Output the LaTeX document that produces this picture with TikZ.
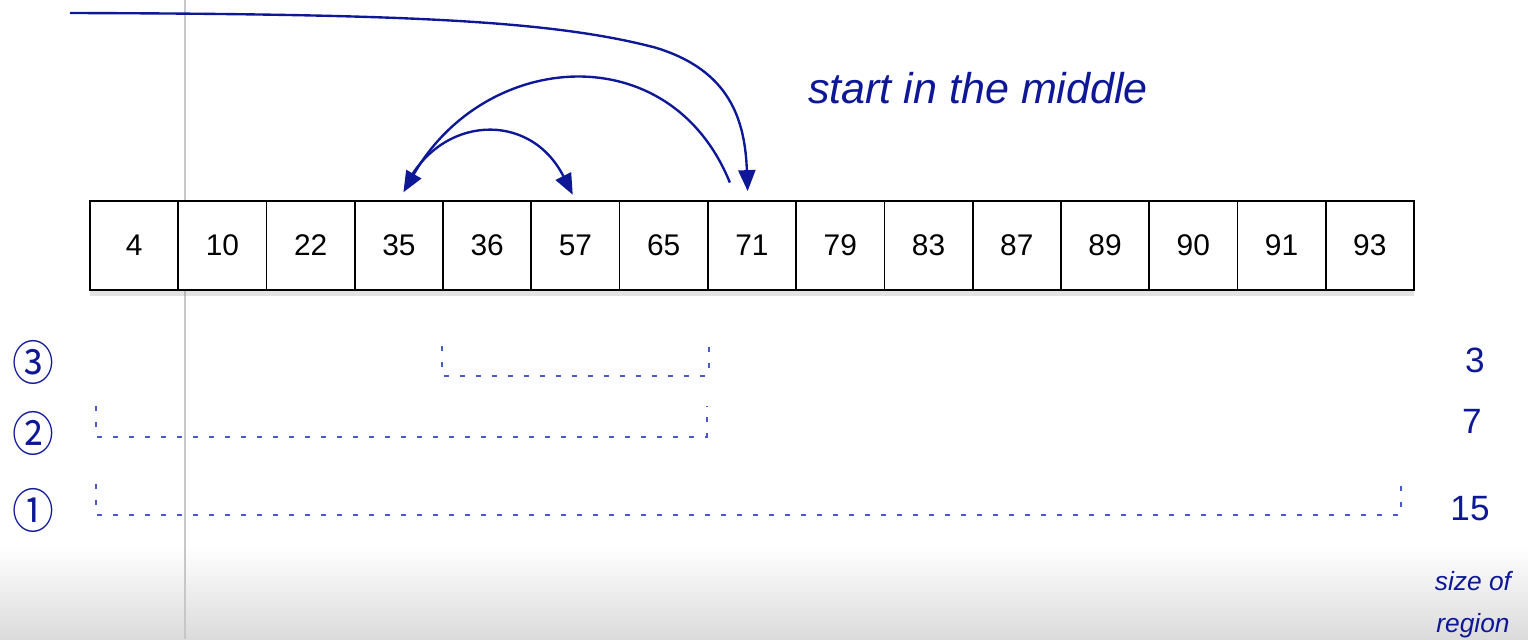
\documentclass[tikz,border=0pt]{standalone}
\usepackage{fontspec}
\setmainfont{Liberation Sans}
\newfontfamily\circfont{Noto Sans CJK JP}
\usetikzlibrary{positioning, arrows.meta, calc, shadows}
\definecolor{jumpblue}{RGB}{14,24,150}
\definecolor{dotblue}{RGB}{70,90,205}

\begin{document}
\begin{tikzpicture}[>={Triangle[length=0.42cm,width=0.34cm]},
    cell/.style={draw, line width=1pt, fill=white, inner sep=0pt,
                 minimum width=1.7653cm, minimum height=1.78cm,
                 font=\fontsize{17}{20}\selectfont,
                 drop shadow={shadow xshift=0pt, shadow yshift=-0.12cm, opacity=0.22}},
    jump/.style={->, jumpblue, line width=1.35pt},
    region/.style={dotblue, line width=1pt, dash pattern=on 0.1cm off 0.22cm},
    circnum/.style={text=jumpblue, xscale=0.88, transform shape,
                    font=\circfont\fontsize{27}{30}\selectfont},
    sizenum/.style={text=jumpblue, font=\fontsize{20}{24}\selectfont},
    note/.style={text=jumpblue, font=\itshape\fontsize{24.5}{28}\selectfont}]

    \useasboundingbox (0,0) rectangle (30.56,-12.78);
    \shade[top color=white, bottom color=black!14] (0,-10.9) rectangle (30.56,-12.78);
    \draw[black!22, line width=1.2pt] (3.7,0) -- (3.7,-12.78);

    % the sorted array
    \foreach \v [count=\i] in {4,10,22,35,36,57,65,71,79,83,87,89,90,91,93}
      \node[cell] (c\i) at ({1.8+(\i-0.5)*1.7653}, -4.91) {\v};

    \node[note] (middle) at (19.56,-1.76) {start in the middle};

    % probes
    \coordinate (from) at (1.4,-0.26);
    \draw[jump, shorten >=0.18cm]
      (from) .. controls (8.0,-0.28) and (11.0,-0.4) .. (13.1,-0.95)
             .. controls (14.6,-1.4) and (14.9,-2.4) .. ([xshift=-0.08cm]c8.north);
    \draw[jump, shorten <=0.38cm, shorten >=0.18cm]
      ([xshift=-0.3cm]c8.north) .. controls (13.4,-0.7) and (9.7,-1.0) .. (c4.north);
    \draw[jump, shorten <=0.3cm, shorten >=0.12cm]
      (c4.north) .. controls (8.8,-2.3) and (10.6,-2.2) .. (c6.north);

    % regions still searched
    \draw[region] ($(c5.south west)+(0,-1.1)$) -- ++(0,-0.6) -| ($(c7.south east)+(0,-1.1)$);
    \draw[region] ($(c1.south west)+(0.14,-2.3)$) -- ++(0,-0.62) -| ($(c7.south east)+(-0.04,-2.3)$);
    \draw[region] ($(c1.south west)+(0.14,-3.86)$) -- ++(0,-0.62) -| ($(c15.south east)+(-0.28,-3.86)$);

    \node[circnum] (r3) at (0.66,-7.24) {③};
    \node[circnum] (r2) at (0.66,-8.66) {②};
    \node[circnum] (r1) at (0.66,-10.2) {①};

    \node[sizenum] (s3) at (29.5,-7.2) {3};
    \node[sizenum] (s2) at (29.44,-8.42) {7};
    \node[sizenum] (s1) at (29.4,-10.18) {15};
    \node[text=jumpblue, align=center, font=\itshape\fontsize{15}{24}\selectfont]
      (size) at (29.46,-12.1) {size of\\region};
  \end{tikzpicture}
\end{document}
